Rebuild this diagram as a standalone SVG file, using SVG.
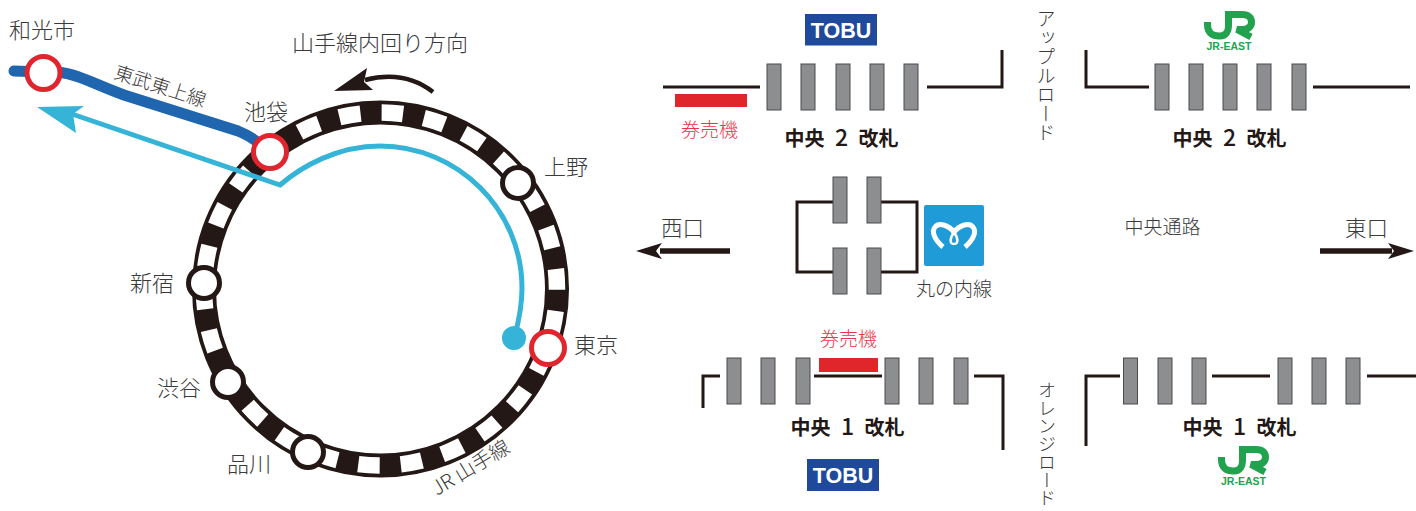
<svg xmlns="http://www.w3.org/2000/svg" xmlns:xlink="http://www.w3.org/1999/xlink" width="1416" height="511" viewBox="0 0 1416 511">
<style>
text{font-family:"Noto Sans CJK JP","Noto Sans",sans-serif;fill:#3a3a3a;font-weight:300}
.st{font-size:22px}
.b{font-size:20px;font-weight:700;fill:#231815;text-anchor:middle;word-spacing:6px}
.n{font-size:23px;font-weight:500}
.r{font-size:19px;fill:#e8344a;text-anchor:middle}
.tobu{font-family:"Liberation Sans",Arial,sans-serif;font-size:21.500px;font-weight:700;fill:#fff;text-anchor:middle}
.jr{font-family:"Liberation Sans",Arial,sans-serif;font-size:10.500px;font-weight:700;fill:#22a24f;text-anchor:middle}
.v{font-size:19px;writing-mode:vertical-rl;text-orientation:mixed}
.g{fill:#8c8e90;stroke:#4a4b4f;stroke-width:1}
.w{fill:none;stroke:#231815;stroke-width:3}
.red{fill:#fff;stroke:#e0252f;stroke-width:5}
.blk{fill:#fff;stroke:#231815;stroke-width:5}
</style>
<defs>
<rect id="gate" class="g" width="14" height="46"/>
<g id="jrlogo"><path d="M3.500 11V14C3.500 22 9 25 15 25H16C22 25 24.500 20 24.500 15V3.500H38C45 3.500 47.500 7 47.500 11C47.500 16 44 18.500 38 18.500H33L47 26" fill="none" stroke="#22a24f" stroke-width="7"/></g>
</defs>
<g id="ring">
<circle cx="380.5" cy="289" r="176.5" fill="none" stroke="#231815" stroke-width="24"/>
<circle cx="380.5" cy="289" r="176.5" fill="none" stroke="#fff" stroke-width="16.500" stroke-dasharray="21.5 21.16" stroke-dashoffset="-22"/>
</g>
<g id="connectors">
<path d="M14 71L43 72H58C78 74 96 85 124 95L238 131C248 135 256 140 263 147" fill="none" stroke="#1f66ae" stroke-width="11" stroke-linecap="round"/>
<path d="M72 114L280 185C302 166 338 146 380 146C458 146 522 210 522 288C522 305 519 320 515 335" fill="none" stroke="#35b4d8" stroke-width="5"/>
<path d="M37 107L84 106L73 114L76 133Z" fill="#35b4d8"/>
<circle cx="514" cy="338" r="12" fill="#35b4d8"/>
<path d="M433 92C415 78 392 73 365 80" fill="none" stroke="#231815" stroke-width="4.500"/>
<path d="M334 91L367 68L364 82L373 90Z" fill="#231815"/>
<path class="w" d="M663 87H760M927 87H1002V50M1086 50V87H1149M1313 87H1410"/>
<path class="w" d="M833 202H797V272H833M881 202H917V272H881"/>
<path class="w" d="M703 408V376H720M814 376H882M974 376H1003V450M1086 446V376H1120M1212 376H1270M1367 376H1416"/>
<path d="M730 251H660" stroke="#231815" stroke-width="5.500" fill="none"/>
<path d="M636 251L662 243L656 251L662 259Z" fill="#231815"/>
<path d="M1320 251H1392" stroke="#231815" stroke-width="5.500" fill="none"/>
<path d="M1414 251L1388 243L1394 251L1388 259Z" fill="#231815"/>
</g>
<g id="wakoshi"><circle class="red" cx="43.500" cy="73" r="16.500"/><text class="st" x="9" y="38">和光市</text></g>
<g id="ikebukuro"><circle class="red" cx="270" cy="152" r="16.500"/><text class="st" x="244" y="120">池袋</text></g>
<g id="tokyo"><circle class="red" cx="548" cy="348" r="16.500"/><text class="st" x="574" y="353">東京</text></g>
<g id="ueno"><circle class="blk" cx="518" cy="183" r="15.500"/><text class="st" x="544" y="175">上野</text></g>
<g id="shinjuku"><circle class="blk" cx="204" cy="283" r="15.500"/><text class="st" x="130" y="291">新宿</text></g>
<g id="shibuya"><circle class="blk" cx="228" cy="382" r="15.500"/><text class="st" x="157" y="396">渋谷</text></g>
<g id="shinagawa"><circle class="blk" cx="308" cy="452" r="15.500"/><text class="st" x="227" y="472">品川</text></g>
<g id="labels">
<text x="292" y="51" style="font-size:22px">山手線内回り方向</text>
<text transform="translate(113 78) rotate(18)" style="font-size:19px">東武東上線</text>
<text transform="translate(437 496) rotate(-31)" style="font-size:20px">JR 山手線</text>
</g>
<g id="tobu-2"><rect x="805" y="14" width="72" height="31.500" fill="#1f4a9c"/><text class="tobu" x="841" y="37.500">TOBU</text></g>
<g id="jr-2"><use xlink:href="#jrlogo" href="#jrlogo" x="1204" y="11"/><text class="jr" x="1229" y="50">JR-EAST</text></g>
<g id="west-2">
<use href="#gate" x="767" y="64"/><use href="#gate" x="801" y="64"/><use href="#gate" x="836" y="64"/><use href="#gate" x="870" y="64"/><use href="#gate" x="904" y="64"/>
<rect x="675" y="94" width="72" height="13" fill="#e0252b"/>
<text class="r" x="709.500" y="137">券売機</text>
<text class="b" x="841.500" y="146">中央 <tspan class="n">2</tspan> 改札</text>
</g>
<g id="east-2">
<use href="#gate" x="1155" y="64"/><use href="#gate" x="1189" y="64"/><use href="#gate" x="1223" y="64"/><use href="#gate" x="1257" y="64"/><use href="#gate" x="1292" y="64"/>
<text class="b" x="1229.500" y="146">中央 <tspan class="n">2</tspan> 改札</text>
</g>
<g id="apple-road"><text class="v" x="1046" y="9">アップルロード</text></g>
<g id="orange-road"><text class="v" x="1047" y="381" style="font-size:18px">オレンジロード</text></g>
<g id="marunouchi">
<use href="#gate" x="833" y="177"/><use href="#gate" x="867" y="177"/><use href="#gate" x="833" y="248"/><use href="#gate" x="867" y="248"/>
<rect x="924" y="205" width="60" height="61" rx="2" fill="#1f9bd7"/>
<path d="M943 247C935 240 931 232 935 227C939 222 948 225 954 232C960 225 969 222 973 227C977 232 973 240 965 247" fill="none" stroke="#fff" stroke-width="5"/>
<path d="M954 232C950 238 949 244 954 244C959 244 958 238 954 232" fill="none" stroke="#fff" stroke-width="2.500"/>
<text x="954" y="296" style="font-size:19px;text-anchor:middle">丸の内線</text>
</g>
<g id="west-exit"><text x="682.500" y="236" style="font-size:21.500px;text-anchor:middle">西口</text></g>
<g id="east-exit"><text x="1366.500" y="236" style="font-size:21.500px;text-anchor:middle">東口</text></g>
<g id="corridor"><text x="1162.500" y="234" style="font-size:19px;text-anchor:middle">中央通路</text></g>
<g id="west-1">
<use href="#gate" x="727" y="358"/><use href="#gate" x="761" y="358"/><use href="#gate" x="796" y="358"/><use href="#gate" x="885" y="358"/><use href="#gate" x="919" y="358"/><use href="#gate" x="954" y="358"/>
<rect x="819" y="358" width="59" height="14" fill="#e0252b"/>
<text class="r" x="848.500" y="346">券売機</text>
<text class="b" x="847.500" y="435">中央 <tspan class="n">1</tspan> 改札</text>
</g>
<g id="tobu-1"><rect x="807" y="459" width="72" height="32" fill="#1f4a9c"/><text class="tobu" x="843" y="483">TOBU</text></g>
<g id="east-1">
<use href="#gate" x="1123.500" y="358"/><use href="#gate" x="1158" y="358"/><use href="#gate" x="1192" y="358"/><use href="#gate" x="1278" y="358"/><use href="#gate" x="1312" y="358"/><use href="#gate" x="1346" y="358"/>
<text class="b" x="1239.500" y="435">中央 <tspan class="n">1</tspan> 改札</text>
</g>
<g id="jr-1"><use href="#jrlogo" x="1218" y="446"/><text class="jr" x="1243.500" y="485">JR-EAST</text></g>
</svg>
